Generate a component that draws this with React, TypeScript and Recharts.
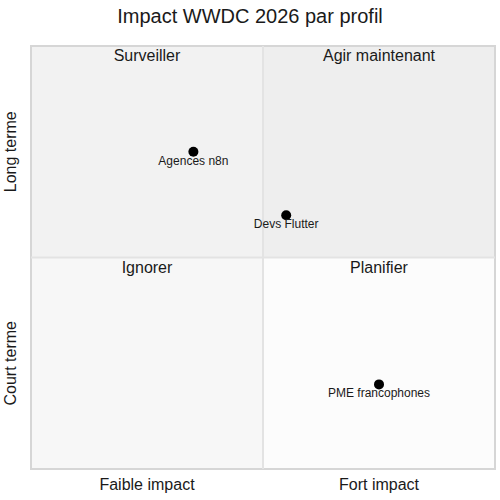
import { ScatterChart, Scatter, XAxis, YAxis, ReferenceArea, ReferenceLine } from 'recharts';

const profiles = ['Agences n8n', 'Devs Flutter', 'PME francophones'];
const impact = [0.35, 0.55, 0.75];
const urgency = [0.75, 0.6, 0.2];

const xTicks = [0.25, 0.75];
const xTickLabels = ['Faible impact', 'Fort impact'];
const yTicks = [0.25, 0.75];
const yTickLabels = ['Court terme', 'Long terme'];

const quadrantNames = ['Surveiller', 'Agir maintenant', 'Ignorer', 'Planifier'];
const quadrantFills = ['#f2f2f2', '#eeeeee', '#f7f7f7', '#fcfcfc'];

const points = profiles.map((name, i) => ({ name, x: impact[i], y: urgency[i] }));

const quadrants = [
  { x1: 0, x2: 0.5, y1: 0.5, y2: 1 },
  { x1: 0.5, x2: 1, y1: 0.5, y2: 1 },
  { x1: 0, x2: 0.5, y1: 0, y2: 0.5 },
  { x1: 0.5, x2: 1, y1: 0, y2: 0.5 },
];

const font = 'Liberation Sans, Arial, sans-serif';
const ink = '#1a1a1a';

function PointShape(props: any) {
  const { cx, cy, payload } = props;
  return (
    <g>
      <circle cx={cx} cy={cy} r={5} fill="#000" />
      <text x={cx} y={cy + 13} textAnchor="middle" fontSize={12} fontFamily={font} fill={ink}>
        {payload.name}
      </text>
    </g>
  );
}

function QuadrantLabel(name: string) {
  return (props: any) => {
    const { viewBox } = props;
    return (
      <text
        x={viewBox.x + viewBox.width / 2}
        y={viewBox.y + 15}
        textAnchor="middle"
        fontSize={16}
        fontFamily={font}
        fill={ink}
      >
        {name}
      </text>
    );
  };
}

function YTick(props: any) {
  const { y, payload } = props;
  const label = yTickLabels[yTicks.indexOf(payload.value)];
  return (
    <text
      x={16}
      y={y}
      transform={`rotate(-90, 16, ${y})`}
      textAnchor="middle"
      fontSize={16}
      fontFamily={font}
      fill={ink}
    >
      {label}
    </text>
  );
}

export default function App() {
  return (
    <div style={{ position: 'absolute', left: 0, top: 0, width: 500, height: 500, background: '#fff' }}>
      <div
        style={{
          position: 'absolute',
          top: 5,
          width: 500,
          textAlign: 'center',
          fontFamily: font,
          fontSize: 20,
          color: ink,
        }}
      >
        Impact WWDC 2026 par profil
      </div>
      <ScatterChart width={500} height={500} margin={{ top: 46, right: 5, bottom: 0, left: 0 }}>
        <XAxis
          type="number"
          dataKey="x"
          domain={[0, 1]}
          ticks={xTicks}
          tickFormatter={(v: number) => xTickLabels[xTicks.indexOf(v)]}
          axisLine={false}
          tickLine={false}
          height={31}
          tickMargin={4}
          tick={{ fontSize: 16, fill: ink, fontFamily: font }}
        />
        <YAxis
          type="number"
          dataKey="y"
          domain={[0, 1]}
          ticks={yTicks}
          axisLine={false}
          tickLine={false}
          width={31}
          tick={<YTick />}
        />
        {quadrants.map((q, i) => (
          <ReferenceArea
            key={quadrantNames[i]}
            x1={q.x1}
            x2={q.x2}
            y1={q.y1}
            y2={q.y2}
            fill={quadrantFills[i]}
            fillOpacity={1}
            stroke="none"
            label={QuadrantLabel(quadrantNames[i])}
          />
        ))}
        <ReferenceLine x={0.5} stroke="#e3e3e3" strokeWidth={2} />
        <ReferenceLine y={0.5} stroke="#e3e3e3" strokeWidth={2} />
        <ReferenceArea x1={0} x2={1} y1={0} y2={1} fill="none" stroke="#d6d6d6" strokeWidth={2} />
        <Scatter data={points} shape={<PointShape />} isAnimationActive={false} />
      </ScatterChart>
    </div>
  );
}
